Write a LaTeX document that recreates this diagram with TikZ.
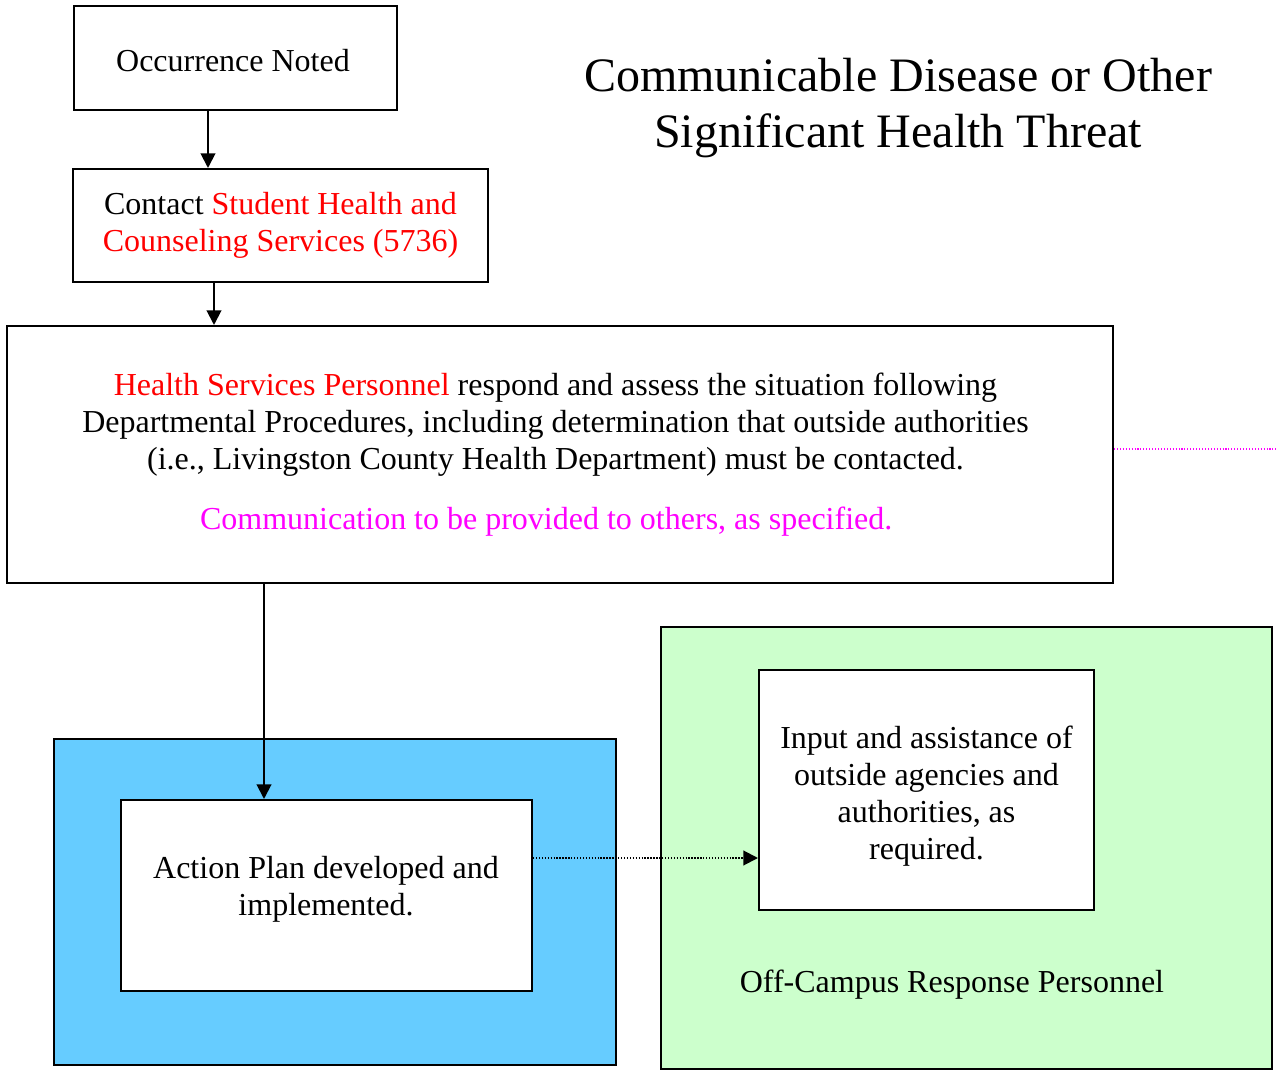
\documentclass[tikz,border=0pt]{standalone}
\usepackage{xcolor}
\usepackage{fontspec}
\setmainfont{Liberation Serif}
\usetikzlibrary{arrows.meta}

\definecolor{hsred}{RGB}{255,0,0}
\definecolor{hsmagenta}{RGB}{255,0,255}
\definecolor{planblue}{RGB}{102,204,255}
\definecolor{offgreen}{RGB}{204,255,204}
\newcommand{\pxu}{0.375pt}

\tikzset{
    box/.style={draw, line width=0.75pt, align=center, inner sep=0pt,
        font=\fontsize{12}{13.9}\selectfont},
    txt/.style={align=center, font=\fontsize{12}{13.9}\selectfont},
    arr/.style={line width=0.75pt, -{Triangle[width=5.5pt,length=5.5pt]}},
    dotarr/.style={line width=0.75pt, dash pattern=on 0.5pt off 0.6pt,
        -{Triangle[width=5.5pt,length=5.5pt]}},
    magline/.style={hsmagenta, line width=0.5pt, dash pattern=on 0.4pt off 0.7pt},
}

\begin{document}
\begin{tikzpicture}[x=0.375pt, y=-0.375pt]
    \useasboundingbox (0,0) rectangle (1276,1071);

    \node[box, minimum width=323*\pxu, minimum height=104*\pxu] (occ) at (235.5,58) {};
    \node[txt] (occtext) at (233,61) {Occurrence Noted};
    \node[box, minimum width=415*\pxu, minimum height=113*\pxu] (contact) at (280.5,225.5)
        {Contact \textcolor{hsred}{Student Health and}\\ \textcolor{hsred}{Counseling Services (5736)}};
    \node[box, minimum width=1106*\pxu, minimum height=257*\pxu] (main) at (560,454.5) {};
    \node[txt] (maintext) at (555.5,455)
        {\textcolor{hsred}{Health Services Personnel} respond and assess the situation following\\
         Departmental Procedures, including determination that outside authorities\\
         (i.e., Livingston County Health Department) must be contacted.\\[8.6pt]
         \textcolor{hsmagenta}{Communication to be provided to others, as specified.}\hspace*{7pt}};

    \node[box, fill=planblue, minimum width=562*\pxu, minimum height=326*\pxu] (oncampus) at (335,902) {};
    \node[box, fill=white, minimum width=411*\pxu, minimum height=191*\pxu] (plan) at (326.5,895.5) {};
    \node[txt] (plantext) at (326,889.5) {Action Plan developed and\\ implemented.};

    \node[box, fill=offgreen, minimum width=611*\pxu, minimum height=442*\pxu] (offcampus) at (966.5,848) {};
    \node[box, fill=white, minimum width=335*\pxu, minimum height=240*\pxu] (input) at (926.5,790) {};
    \node[txt] (inputtext) at (926.5,796)
        {Input and assistance of\\ outside agencies and\\ authorities, as\\ required.};
    \node[txt] (offlabel) at (952,985) {Off-Campus Response Personnel};

    \node[align=center, font=\fontsize{18}{21}\selectfont] (title) at (898,108)
        {Communicable Disease or Other\\ Significant Health Threat};

    \coordinate (a1) at (208,0);
    \coordinate (a2) at (214,0);
    \coordinate (a3) at (264,0);
    \coordinate (d1) at (0,858);
    \coordinate (m1) at (1276,449);

    \draw[arr] (occ.south -| a1) -- (contact.north -| a1);
    \draw[arr] (contact.south -| a2) -- (main.north -| a2);
    \draw[arr] (main.south -| a3) -- (plan.north -| a3);
    \draw[dotarr] (plan.east |- d1) -- (input.west |- d1);
    \draw[magline] (main.east |- m1) -- (m1);
\end{tikzpicture}
\end{document}
